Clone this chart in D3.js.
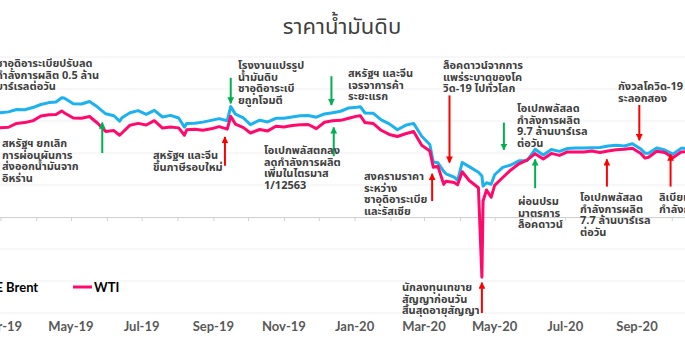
<!DOCTYPE html>
<html><head><meta charset="utf-8">
<script src="https://cdn.jsdelivr.net/npm/d3@7/dist/d3.min.js"></script>
<style>
html,body{margin:0;padding:0;background:#fff;overflow:hidden}
svg{display:block}
</style></head>
<body>
<svg id="c" width="685" height="360"></svg>
<script>
// ---- data ----
const dates = ["2019-02-15","2019-02-22","2019-03-01","2019-03-08","2019-03-15","2019-03-22","2019-03-29","2019-04-05","2019-04-12","2019-04-18","2019-04-23","2019-04-25","2019-05-03","2019-05-10","2019-05-17","2019-05-24","2019-05-31","2019-06-07","2019-06-12","2019-06-14","2019-06-21","2019-06-28","2019-07-05","2019-07-12","2019-07-19","2019-07-26","2019-08-02","2019-08-07","2019-08-09","2019-08-16","2019-08-23","2019-08-30","2019-09-06","2019-09-13","2019-09-16","2019-09-20","2019-09-27","2019-10-03","2019-10-11","2019-10-18","2019-10-25","2019-11-01","2019-11-08","2019-11-15","2019-11-22","2019-11-29","2019-12-06","2019-12-13","2019-12-20","2019-12-27","2020-01-03","2020-01-06","2020-01-10","2020-01-17","2020-01-24","2020-01-31","2020-02-07","2020-02-14","2020-02-21","2020-02-28","2020-03-06","2020-03-09","2020-03-13","2020-03-18","2020-03-20","2020-03-27","2020-03-30","2020-04-03","2020-04-09","2020-04-17","2020-04-20","2020-04-21","2020-04-24","2020-04-28","2020-05-01","2020-05-08","2020-05-15","2020-05-22","2020-05-29","2020-06-05","2020-06-12","2020-06-19","2020-06-26","2020-07-03","2020-07-10","2020-07-17","2020-07-24","2020-07-31","2020-08-07","2020-08-14","2020-08-21","2020-08-28","2020-09-04","2020-09-08","2020-09-11","2020-09-18","2020-09-25","2020-10-02","2020-10-09","2020-10-16","2020-10-23"];
const brent = [66.3,67.1,65.1,65.7,67.2,67.0,68.4,70.3,71.5,71.9,74.5,74.4,70.8,70.6,72.2,68.7,64.5,63.3,59.9,62.0,65.2,66.5,64.2,66.7,62.5,63.5,61.9,56.2,58.5,58.6,59.3,60.4,61.5,60.2,69.0,64.3,61.9,57.7,60.5,59.4,61.7,61.7,62.5,63.3,63.4,62.4,64.4,65.2,66.1,68.2,68.6,68.9,65.0,64.9,60.7,58.2,54.5,57.3,58.5,50.5,45.3,34.4,33.9,28.5,27.0,24.9,22.8,34.1,31.5,28.0,25.6,19.3,21.4,20.5,26.4,31.0,32.5,35.1,35.3,42.3,38.7,42.2,41.0,42.8,43.2,43.1,43.3,43.5,44.4,44.8,44.4,45.8,42.7,39.8,39.8,43.2,41.9,39.3,42.9,42.9,41.8];
const wti = [55.6,57.3,55.8,56.1,58.5,59.0,60.1,63.1,63.9,64.0,66.3,65.2,61.9,61.7,62.8,58.6,53.5,54.0,51.1,52.5,57.4,58.5,57.5,60.2,55.6,56.2,55.7,51.1,54.5,54.9,54.2,55.1,56.5,54.9,62.9,58.1,55.9,52.5,54.7,53.8,56.7,56.2,57.2,57.7,57.8,55.2,59.2,60.1,60.4,61.7,63.05,63.3,59.0,58.5,54.2,51.6,50.3,52.05,53.4,44.8,41.3,31.1,31.7,20.4,22.4,21.5,20.1,28.3,22.8,18.3,-37.6,10.0,16.9,12.3,19.8,24.7,29.4,33.25,35.5,39.6,36.3,39.75,38.5,40.65,40.55,40.6,41.3,40.3,41.2,42.0,42.3,42.97,39.8,36.8,37.3,41.1,40.25,37.05,40.6,40.9,39.85];
const seriesNames = ["ICE Brent","WTI"];
const yTicks = [-60,-40,-20,0,20,40,60,80,100];
const xTickMonths = ["2019-03-01","2019-05-01","2019-07-01","2019-09-01","2019-11-01","2020-01-01","2020-03-01","2020-05-01","2020-07-01","2020-09-01"];
const title = "ราคาน้ำมันดิบ";

// annotations: arrow at date, from value v1 to v2 (arrow head at v2); text block offset
const annotations = [
  {d:"2019-01-20", v1:120, v2:110, c:"#00b050", tx:-4, ty:63, lines:["ซาอุดิอาระเบียปรับลด","กำลังการผลิต 0.5 ล้าน","บาร์เรลต่อวัน"]},
  {d:"2019-05-28", v1:40, v2:59, c:"#00b050", tx:2, ty:143, lines:["สหรัฐฯ ยกเลิก","การผ่อนผันการ","ส่งออกน้ำมันจาก","อิหร่าน"]},
  {d:"2019-09-11", v1:32, v2:50, c:"#ff0000", tx:153, ty:155, lines:["สหรัฐฯ และจีน","ขึ้นภาษีรอบใหม่"]},
  {d:"2019-09-16", v1:87, v2:71, c:"#00b050", tx:238, ty:65, lines:["โรงงานแปรรูป","น้ำมันดิบ","ซาอุดิอาระเบี","ยถูกโจมตี"]},
  {d:"2019-12-12", v1:88, v2:70, c:"#00b050", tx:348, ty:73, lines:["สหรัฐฯ และจีน","เจรจาการค้า","ระยะแรก"]},
  {d:"2019-12-14", v1:38, v2:56, c:"#00b050", tx:264, ty:150, lines:["โอเปกพลัสตกลง","ลดกำลังการผลิต","เพิ่มในไตรมาส","1/12563"]},
  {d:"2020-03-08", v1:10, v2:27, c:"#ff0000", tx:364, ty:176, lines:["สงครามราคา","ระหว่าง","ซาอุดิอาระเบีย","และรัสเซีย"]},
  {d:"2020-03-23", v1:76, v2:34, c:"#ff0000", tx:443, ty:65, lines:["ล็อคดาวน์จากการ","แพร่ระบาดของโค","วิด-19 ไปทั่วโลก"]},
  {d:"2020-05-09", v1:59, v2:42, c:"#00b050", tx:517, ty:108, lines:["โอเปกพลัสลด","กำลังการผลิต","9.7 ล้านบาร์เรล","ต่อวัน"]},
  {d:"2020-06-05", v1:18, v2:36, c:"#00b050", tx:518, ty:201, lines:["ผ่อนปรม","มาตรการ","ล็อคดาวน์"]},
  {d:"2020-08-06", v1:19, v2:36, c:"#ff0000", tx:580, ty:197, lines:["โอเปกพลัสลด","กำลังการผลิต","7.7 ล้านบาร์เรล","ต่อวัน"]},
  {d:"2020-09-03", v1:70, v2:48, c:"#ff0000", tx:618, ty:86, lines:["กังวลโควิด-19","ระลอกสอง"]},
  {d:"2020-09-30", v1:19, v2:39, c:"#ff0000", tx:659, ty:197, lines:["ลิเบียเพิ่ม","กำลังการผลิต"]},
  {d:"2020-04-20", v1:-60, v2:-41, c:"#ff0000", tx:402, ty:287, lines:["นักลงทุนเทขาย","สัญญาก่อนวัน","สิ้นสุดอายุสัญญา"]}
];

// ---- chart ----
const parse = d3.timeParse("%Y-%m-%d");
const svg = d3.select("#c");
const x = d3.scaleTime().domain([parse("2019-03-01"), parse("2020-09-01")]).range([0.4, 637]);
const y = d3.scaleLinear().domain([-60, 100]).range([313, 57]);
const thaiFont = "Tahoma, 'Noto Sans Thai', 'Noto Sans', sans-serif";
const latFont = "'Lato', 'DejaVu Sans', sans-serif";

// gridlines
svg.append("g").selectAll("line").data(yTicks.filter(v => v !== 0)).join("line")
  .attr("x1", 0).attr("x2", 685).attr("y1", d => y(d)).attr("y2", d => y(d))
  .attr("stroke", "#efefef").attr("stroke-width", 1);

// zero axis with monthly ticks
const monthTicks = d3.timeMonth.range(parse("2019-01-01"), parse("2020-12-01"));
const axisG = svg.append("g").attr("transform", `translate(0,${y(0)})`)
  .call(d3.axisBottom(x).tickValues(monthTicks).tickSize(4).tickFormat(""));
axisG.selectAll("path,line").attr("stroke", "#d0d0d0");
axisG.select(".domain").attr("d", "M-10,0.5H700");

// month labels (low position)
svg.append("g").selectAll("text").data(xTickMonths.map(parse)).join("text")
  .attr("x", d => x(d)).attr("y", 331).attr("text-anchor", "middle")
  .attr("font-family", latFont).attr("font-weight", "bold").attr("font-size", 13)
  .attr("fill", "#595959").text(d => d3.timeFormat("%b-%y")(d));

// lines
const pts = dates.map((d, i) => ({d: parse(d), b: brent[i], w: wti[i]}));
const line = key => d3.line().x(p => x(p.d)).y(p => y(p[key]));
svg.append("path").datum(pts).attr("d", line("b")).attr("fill", "none")
  .attr("stroke", "#1cb1ef").attr("stroke-width", 3).attr("stroke-linejoin", "round");
svg.append("path").datum(pts).attr("d", line("w")).attr("fill", "none")
  .attr("stroke", "#ff0a6c").attr("stroke-width", 3).attr("stroke-linejoin", "round");

// title
svg.append("text").attr("x", 342).attr("y", 34).attr("text-anchor", "middle")
  .attr("font-family", thaiFont).attr("font-size", 22).attr("fill", "#404040").text(title);

// legend
const legend = [{name: seriesNames[0], c: "#1cb1ef", x0: -38}, {name: seriesNames[1], c: "#ff0a6c", x0: 73}];
legend.forEach(l => {
  svg.append("line").attr("x1", l.x0).attr("x2", l.x0 + 19).attr("y1", 287).attr("y2", 287)
    .attr("stroke", l.c).attr("stroke-width", 3);
  svg.append("text").attr("x", l.x0 + 21).attr("y", 292).attr("font-family", latFont)
    .attr("font-weight", "bold").attr("font-size", 13).attr("fill", "#000").text(l.name);
});

// arrows
const defs = svg.append("defs");
["#00b050", "#ff0000"].forEach((c, i) => {
  defs.append("marker").attr("id", "ah" + i).attr("viewBox", "0 0 10 10").attr("refX", 9).attr("refY", 5)
    .attr("markerWidth", 3.4).attr("markerHeight", 3.4).attr("orient", "auto")
    .append("path").attr("d", "M0,0L10,5L0,10z").attr("fill", c);
});
annotations.forEach(a => {
  const ax = x(parse(a.d));
  svg.append("line").attr("x1", ax).attr("x2", ax).attr("y1", y(a.v1)).attr("y2", y(a.v2))
    .attr("stroke", a.c).attr("stroke-width", 2)
    .attr("marker-end", `url(#ah${a.c === "#00b050" ? 0 : 1})`);
  const t = svg.append("text").attr("font-family", thaiFont).attr("font-weight", "bold")
    .attr("font-size", 11).attr("fill", "#404040");
  a.lines.forEach((s, i) => t.append("tspan").attr("x", a.tx).attr("y", a.ty + 4 + i * 11.6).text(s));
});
</script>
</body></html>
